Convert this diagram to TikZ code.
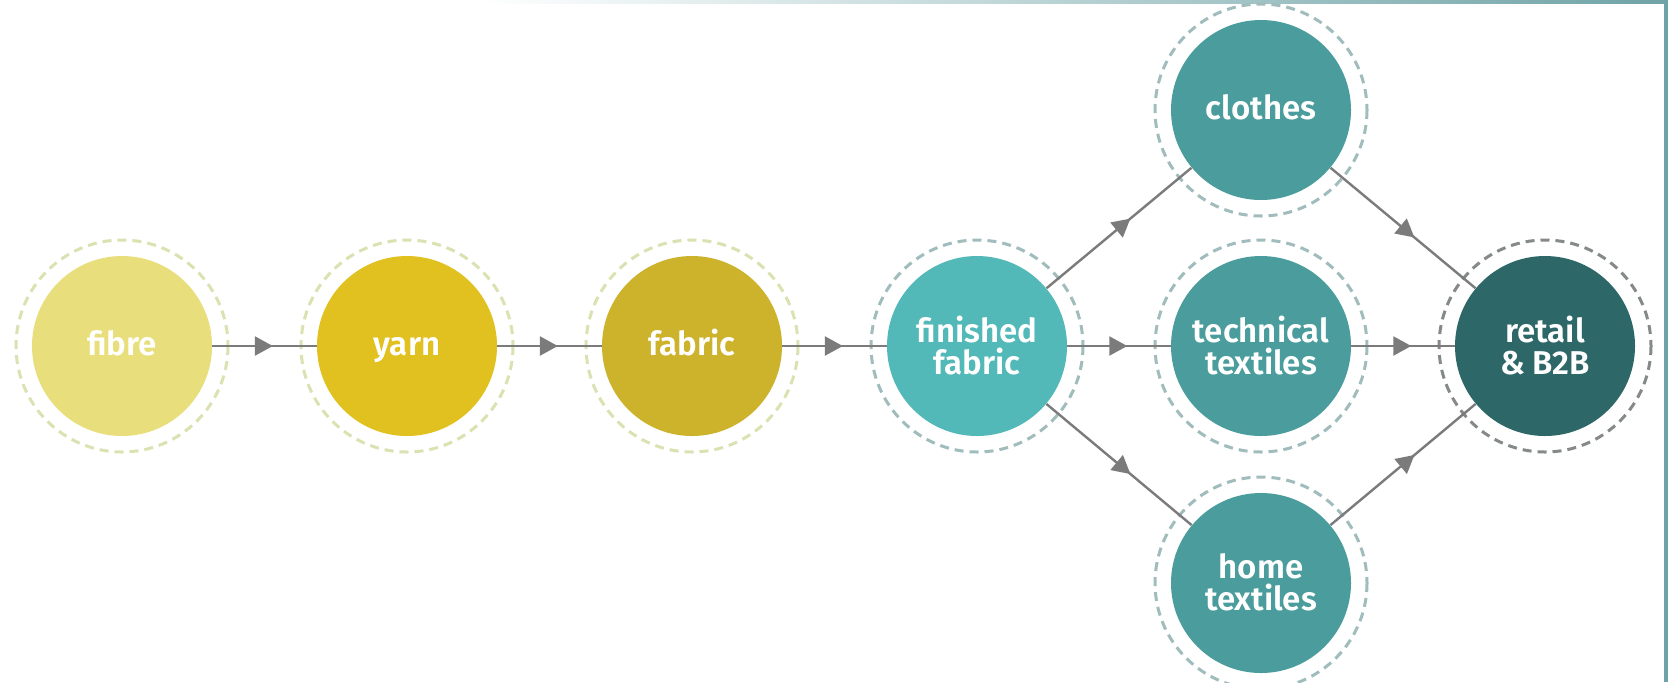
\documentclass[tikz,border=0pt]{standalone}
\usepackage{fontspec}
\newfontfamily\lab{Fira Sans SemiBold}
\usetikzlibrary{arrows.meta,decorations.markings}
\definecolor{cFibre}{HTML}{E8DF7C}
\definecolor{cYarn}{HTML}{E1C11F}
\definecolor{cFabric}{HTML}{CDB22C}
\definecolor{cFin}{HTML}{52B8B8}
\definecolor{cMid}{HTML}{4B9C9C}
\definecolor{cRet}{HTML}{2D6767}
\definecolor{ringY}{HTML}{DCE1B2}
\definecolor{ringT}{HTML}{A0BCBC}
\definecolor{ringR}{HTML}{85898A}
\definecolor{arr}{HTML}{7B7B7B}
\definecolor{edgeT}{HTML}{6FA3A6}
\begin{document}
\begin{tikzpicture}[x=0.5pt,y=-0.5pt,
  disc/.style={circle,minimum size=90pt,inner sep=0pt,text=white,
    font=\lab\fontsize{16.5}{15.5}\selectfont,align=center,
    execute at begin node=\rule{0pt}{14.8pt},
    execute at end node=\rule[-5pt]{0pt}{5pt}},
  plain/.style={circle,minimum size=90pt,inner sep=0pt},
  txt/.style={text=white,inner sep=0pt,align=center,
    font=\lab\fontsize{16.5}{16.3}\selectfont},
  ring/.style={line width=1.5pt,dash pattern=on 4.5pt off 3pt},
  flow/.style={draw=arr,line width=1.2pt,postaction={decorate},
    decoration={markings,mark=at position 0.58 with {\arrow{Triangle[length=9pt,width=9.5pt]}}}}]
\useasboundingbox (0,0) rectangle (1668,682);
\fill[white] (0,0) rectangle (1668,682);
\shade[left color=white,right color=edgeT] (480,0) rectangle (1668,3);
\fill[edgeT] (1664,0) rectangle (1668,682);

\node[disc,fill=cFibre] (fibre) at (122,346) {fibre};
\node[disc,fill=cYarn] (yarn) at (407,346) {yarn};
\node[disc,fill=cFabric] (fabric) at (692,346) {fabric};
\node[plain,fill=cFin] (finished) at (977,346) {};
\node[disc,fill=cMid] (clothes) at (1261,110) {clothes};
\node[plain,fill=cMid] (technical) at (1261,346) {};
\node[plain,fill=cMid] (home) at (1261,583) {};
\node[plain,fill=cRet] (retail) at (1545,346) {};

\node[txt] (finishedL) at ([yshift=0.3pt]finished.center) {finished\\fabric};
\node[txt] (technicalL) at ([yshift=0.3pt]technical.center) {technical\\textiles};
\node[txt] (homeL) at ([yshift=0.3pt]home.center) {home\\textiles};
\node[txt] (retailL) at ([yshift=0.3pt]retail.center) {retail\\\& B2B};

\foreach \n in {fibre,yarn,fabric}
  \draw[ring,draw=ringY] (\n.center) circle[radius=106];
\foreach \n in {finished,clothes,technical,home}
  \draw[ring,draw=ringT] (\n.center) circle[radius=106];
\draw[ring,draw=ringR] (retail.center) circle[radius=106];

\draw[flow] (fibre) -- (yarn);
\draw[flow] (yarn) -- (fabric);
\draw[flow] (fabric) -- (finished);
\draw[flow] (finished) -- (clothes);
\draw[flow] (finished) -- (technical);
\draw[flow] (finished) -- (home);
\draw[flow] (clothes) -- (retail);
\draw[flow] (technical) -- (retail);
\draw[flow] (home) -- (retail);
\end{tikzpicture}
\end{document}
